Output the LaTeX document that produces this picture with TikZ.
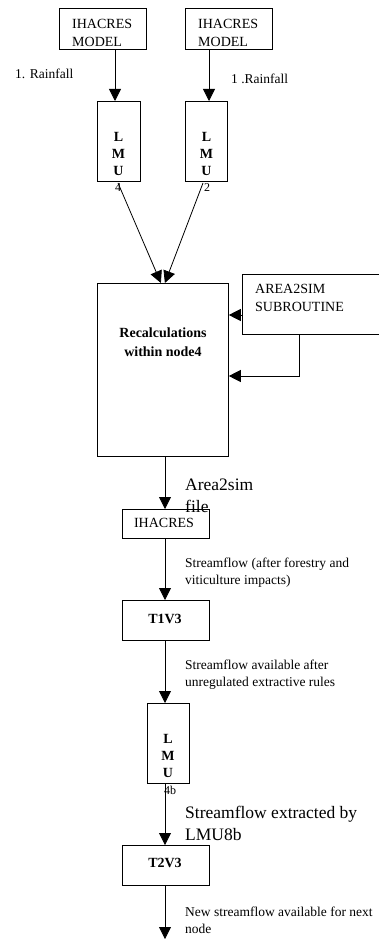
\documentclass[tikz,border=0pt]{standalone}
\usepackage{fontspec}
\setmainfont{Liberation Serif}
\usetikzlibrary{arrows.meta,calc}
\begin{document}
\begin{tikzpicture}[x=1pt,y=-1pt,
  box/.style={draw,line width=0.8pt,inner sep=0pt,anchor=north west},
  arr/.style={line width=0.8pt,-{Triangle[width=12pt,length=12pt]}},
  plain/.style={line width=0.8pt},
  txt/.style={inner sep=0pt,align=left,font=\fontsize{14}{18}\selectfont},
  btxt/.style={inner sep=0pt,align=center,font=\bfseries\fontsize{14}{17}\selectfont},
  lbl/.style={inner sep=0pt,align=left,anchor=west,font=\fontsize{13.5}{17}\selectfont},
  biglbl/.style={inner sep=0pt,align=left,anchor=west,font=\fontsize{17.5}{22}\selectfont}]
\useasboundingbox (0,0) rectangle (378,941);
% top model boxes
\node[box,minimum width=87pt,minimum height=41pt] (m1) at (59,8) {};
\node[box,minimum width=87pt,minimum height=41pt] (m2) at (185,8) {};
\node[txt,anchor=west] (m1t) at (72,33) {IHACRES\\MODEL};
\node[txt,anchor=west] (m2t) at (198,33) {IHACRES\\MODEL};
% LMU boxes
\node[box,minimum width=43pt,minimum height=80pt] (l1) at (97,101) {};
\node[box,minimum width=42pt,minimum height=80pt] (l2) at (185,101) {};
\node[btxt] (l1t) at (118.5,154) {L\\M\\U};
\node[btxt] (l2t) at (206.5,154) {L\\M\\U};
\node[inner sep=0pt,font=\fontsize{12}{14}\selectfont] (l1n) at (118,188) {4};
\node[inner sep=0pt,font=\fontsize{12}{14}\selectfont] (l2n) at (207,188) {2};
\coordinate (xa) at (115,0);
\coordinate (xb) at (209,0);
\draw[arr] (m1.south -| xa) -- (l1.north -| xa);
\draw[arr] (m2.south -| xb) -- (l2.north -| xb);
\node[lbl] (r1) at (15,74) {1. Rainfall};
\node[lbl] (r2) at (231,79) {1 .Rainfall};
% recalculation box
\node[box,minimum width=131pt,minimum height=173pt] (big) at (97,283) {};
\node[btxt,font=\bfseries\fontsize{14}{19}\selectfont] (bigt) at (163,342) {Recalculations\\within node4};
\coordinate (ja) at (118,183);
\coordinate (jb) at (203,183);
\draw[arr] (ja) -- ($(big.north)+(-2,0)$);
\draw[arr] (jb) -- ($(big.north)+(2,0)$);
% AREA2SIM subroutine (right side cut off)
\node[inner sep=0pt,anchor=north west,minimum width=138pt,minimum height=60pt] (a2s) at (242,274) {};
\draw[plain] (a2s.north east) -- (a2s.north west) -- (a2s.south west) -- (a2s.south east);
\node[txt,anchor=west] (a2st) at (255,298) {AREA2SIM\\SUBROUTINE};
\coordinate (ya) at (0,315);
\coordinate (yb) at (0,376);
\coordinate (xc) at (299,0);
\draw[arr] (a2s.west |- ya) -- (big.east |- ya);
\draw[arr] (a2s.south -| xc) |- (big.east |- yb);
% IHACRES
\node[box,minimum width=87pt,minimum height=29pt] (ih) at (122,509) {};
\node[txt] (iht) at (164,523) {IHACRES};
\coordinate (xm) at (165,0);
\draw[arr] (big.south -| xm) -- (ih.north -| xm);
\node[biglbl] (lab1) at (185,496) {Area2sim\\file};
% T1V3
\node[box,minimum width=87pt,minimum height=40pt] (t1) at (122,600) {};
\node[btxt] (t1t) at (165,619) {T1V3};
\draw[arr] (ih.south -| xm) -- (t1.north -| xm);
\node[lbl] (lab2) at (185,573) {Streamflow (after forestry and\\viticulture impacts)};
% LMU 4b
\node[box,minimum width=42pt,minimum height=80pt] (l3) at (147,703) {};
\node[btxt] (l3t) at (168,756) {L\\M\\U};
\node[inner sep=0pt,font=\fontsize{12}{14}\selectfont] (l3n) at (170,790) {4b};
\draw[arr] (t1.south -| xm) -- (l3.north -| xm);
\node[lbl] (lab3) at (185,675) {Streamflow available after\\unregulated extractive rules};
% T2V3
\node[box,minimum width=87pt,minimum height=40pt] (t2) at (122,845) {};
\node[btxt] (t2t) at (165,863) {T2V3};
\draw[arr] (l3.south -| xm) -- (t2.north -| xm);
\node[biglbl] (lab4) at (185,823) {Streamflow extracted by\\LMU8b};
% final output
\coordinate (out) at (165,939);
\draw[arr] (t2.south -| xm) -- (out);
\node[lbl] (lab5) at (185,920) {New streamflow available for next\\node};
\end{tikzpicture}
\end{document}
